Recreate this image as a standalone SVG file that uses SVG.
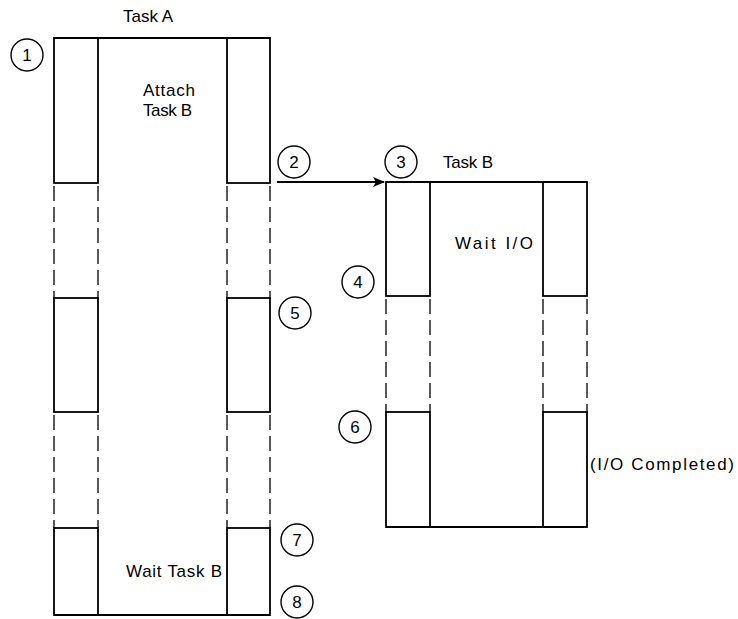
<svg xmlns="http://www.w3.org/2000/svg" width="738" height="619" viewBox="0 0 738 619">
<style>
.box{fill:none;stroke:#000;stroke-width:1.8}
.ln{fill:none;stroke:#000;stroke-width:1.8}
.dash{fill:none;stroke:#000;stroke-width:1.3;stroke-dasharray:15 6}
.t{font-family:"Liberation Sans",Arial,sans-serif;font-size:17px;fill:#000}
.n{font-family:"Liberation Sans",Arial,sans-serif;font-size:17px;fill:#000;text-anchor:middle}
.c{fill:none;stroke:#000;stroke-width:1.4}
</style>
<defs>
<marker id="ah" markerWidth="12" markerHeight="10" refX="11" refY="5" orient="auto" markerUnits="userSpaceOnUse">
<path d="M0,0 L12,5 L0,10 L3,5 Z" fill="#000"/>
</marker>
</defs>
<rect width="738" height="619" fill="#fff"/>
<g id="taskA">
<text class="t" x="123" y="22">Task A</text>
<line class="ln" x1="54" y1="38" x2="270" y2="38"/>
<line class="ln" x1="54" y1="615" x2="270" y2="615"/>
<rect class="box" x="54" y="38" width="44" height="145"/>
<rect class="box" x="227" y="38" width="43" height="145"/>
<rect class="box" x="54" y="298" width="44" height="114"/>
<rect class="box" x="227" y="298" width="43" height="114"/>
<rect class="box" x="54" y="528" width="44" height="87"/>
<rect class="box" x="227" y="528" width="43" height="87"/>
<line class="dash" x1="54" y1="186" x2="54" y2="298"/>
<line class="dash" x1="98" y1="186" x2="98" y2="298"/>
<line class="dash" x1="227" y1="186" x2="227" y2="298"/>
<line class="dash" x1="270" y1="186" x2="270" y2="298"/>
<line class="dash" x1="54" y1="415" x2="54" y2="528"/>
<line class="dash" x1="98" y1="415" x2="98" y2="528"/>
<line class="dash" x1="227" y1="415" x2="227" y2="528"/>
<line class="dash" x1="270" y1="415" x2="270" y2="528"/>
<text class="t" x="143" y="96" textLength="52" lengthAdjust="spacing">Attach</text>
<text class="t" x="143" y="116" textLength="49" lengthAdjust="spacing">Task B</text>
<text class="t" x="126" y="577" textLength="96" lengthAdjust="spacing">Wait Task B</text>
</g>
<g id="taskB">
<text class="t" x="443" y="168" textLength="50" lengthAdjust="spacing">Task B</text>
<line class="ln" x1="386" y1="182" x2="587" y2="182"/>
<line class="ln" x1="386" y1="527" x2="587" y2="527"/>
<rect class="box" x="386" y="182" width="44" height="114"/>
<rect class="box" x="543" y="182" width="44" height="114"/>
<rect class="box" x="386" y="412" width="44" height="115"/>
<rect class="box" x="543" y="412" width="44" height="115"/>
<line class="dash" x1="386" y1="299" x2="386" y2="412"/>
<line class="dash" x1="430" y1="299" x2="430" y2="412"/>
<line class="dash" x1="543" y1="299" x2="543" y2="412"/>
<line class="dash" x1="587" y1="299" x2="587" y2="412"/>
<text class="t" x="455" y="249" textLength="78" lengthAdjust="spacing">Wait I/O</text>
<text class="t" x="590" y="470" textLength="144" lengthAdjust="spacing">(I/O Completed)</text>
</g>
<g id="markers">
<g id="m1"><circle class="c" cx="27" cy="55" r="16"/><text class="n" x="27" y="61">1</text></g>
<g id="m2"><circle class="c" cx="294" cy="162" r="16"/><text class="n" x="294" y="168">2</text></g>
<g id="m3"><circle class="c" cx="401" cy="162" r="16"/><text class="n" x="401" y="168">3</text></g>
<g id="m4"><circle class="c" cx="358" cy="282" r="16"/><text class="n" x="358" y="288">4</text></g>
<g id="m5"><circle class="c" cx="295" cy="313" r="16"/><text class="n" x="295" y="319">5</text></g>
<g id="m6"><circle class="c" cx="355" cy="427" r="16"/><text class="n" x="355" y="433">6</text></g>
<g id="m7"><circle class="c" cx="297" cy="540" r="16"/><text class="n" x="297" y="546">7</text></g>
<g id="m8"><circle class="c" cx="297" cy="602" r="16"/><text class="n" x="297" y="608">8</text></g>
</g>
<g id="connectors">
<line class="ln" x1="277" y1="182" x2="384" y2="182" marker-end="url(#ah)"/>
</g>
</svg>
